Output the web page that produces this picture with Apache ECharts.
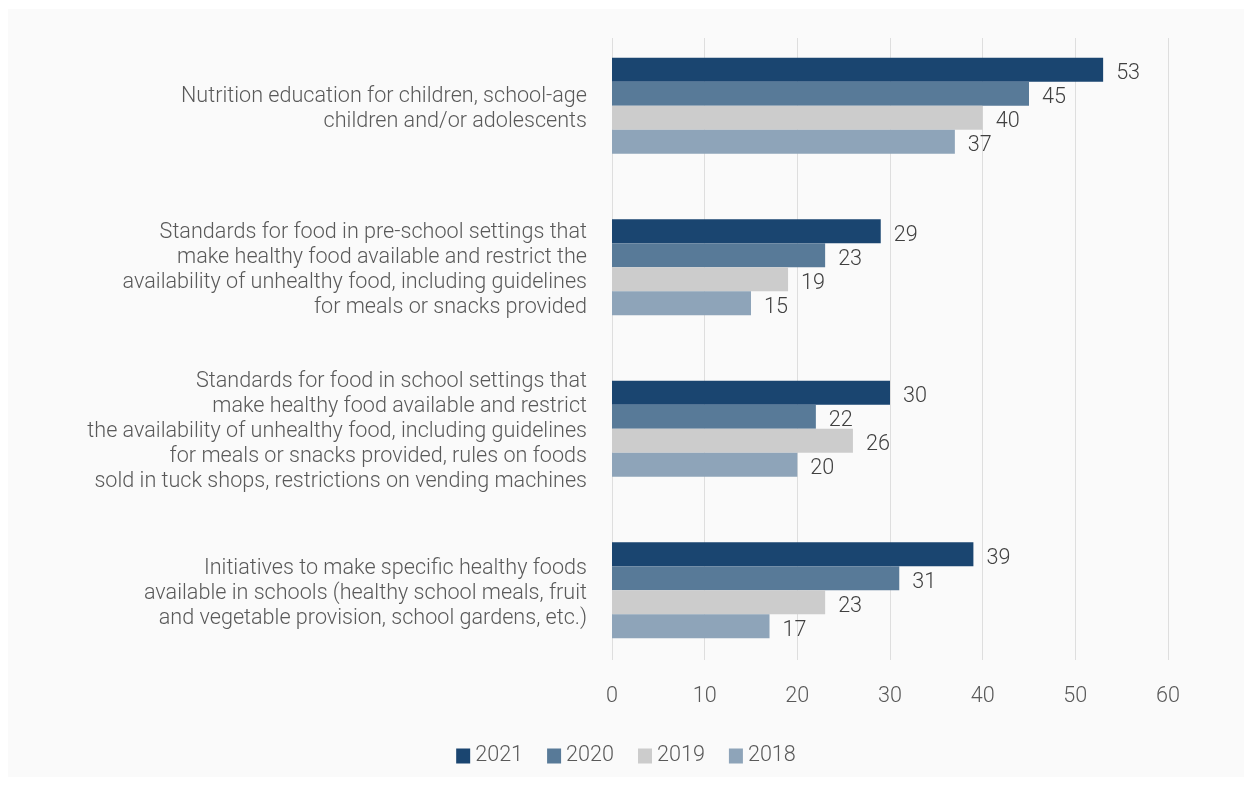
<!DOCTYPE html>
<html>
<head>
<meta charset="utf-8">
<script src="https://cdn.jsdelivr.net/npm/echarts@6/dist/echarts.min.js"></script>
<style>html,body{margin:0;padding:0;background:#fff}#c{width:1252px;height:785px}</style>
</head>
<body>
<div id="c"></div>
<script>
var categories = [
  'Nutrition education for children, school-age\nchildren and/or adolescents',
  'Standards for food in pre-school settings that\nmake healthy food available and restrict the\navailability of unhealthy food, including guidelines\nfor meals or snacks provided',
  'Standards for food in school settings that\nmake healthy food available and restrict\nthe availability of unhealthy food, including guidelines\nfor meals or snacks provided, rules on foods\nsold in tuck shops, restrictions on vending machines',
  'Initiatives to make specific healthy foods\navailable in schools (healthy school meals, fruit\nand vegetable provision, school gardens, etc.)'
];
var seriesNames = ['2021', '2020', '2019', '2018'];
var values2021 = [53, 29, 30, 39];
var values2020 = [45, 23, 22, 31];
var values2019 = [40, 19, 26, 23];
var values2018 = [37, 15, 20, 17];
var xTicks = [0, 10, 20, 30, 40, 50, 60];

var colors = ['#1a4570', '#587a98', '#cccccc', '#8ea4b9'];
var allValues = [values2021, values2020, values2019, values2018];
var FONT = 'Roboto';
var FW = 300;
var FS = 21.6;

var chart = echarts.init(document.getElementById('c'), null, {renderer: 'canvas'});
var series = seriesNames.map(function (n, i) {
  return {
    name: n, type: 'bar', xAxisIndex: 1, yAxisIndex: 1,
    data: allValues[i], barWidth: 24, barGap: '0%',
    itemStyle: {color: colors[i]},
    label: {show: true, position: 'right', distance: 13, offset: [0, 4], color: '#404040',
            fontSize: FS, fontWeight: FW, fontFamily: FONT},
    emphasis: {disabled: true}
  };
});
chart.setOption({
  animation: false,
  backgroundColor: '#ffffff',
  textStyle: {fontFamily: FONT},
  graphic: [{type: 'rect', z: -10, shape: {x: 8, y: 9, width: 1236, height: 768}, style: {fill: '#fafafa'}}],
  legend: {
    data: seriesNames, left: 'center', top: 740, icon: 'rect', itemWidth: 14, itemHeight: 15, itemGap: 24,
    textStyle: {color: '#595959', fontSize: FS, fontWeight: FW, fontFamily: FONT}
  },
  grid: [
    {left: 612, right: 84, top: 38, bottom: 125},
    {left: 612, right: 84, top: 25, bottom: 114},
    {left: 612, right: 84, top: 28, bottom: 111}
  ],
  xAxis: [
    {type: 'value', gridIndex: 0, min: xTicks[0], max: xTicks[xTicks.length - 1], interval: 10,
     axisLine: {show: false}, axisTick: {show: false},
     splitLine: {show: true, lineStyle: {color: '#dedede', width: 1}},
     axisLabel: {color: '#595959', fontSize: FS, fontWeight: FW, margin: 26, fontFamily: FONT}},
    {type: 'value', gridIndex: 1, min: xTicks[0], max: xTicks[xTicks.length - 1], show: false},
    {type: 'value', gridIndex: 2, min: xTicks[0], max: xTicks[xTicks.length - 1], show: false}
  ],
  yAxis: [
    {type: 'category', gridIndex: 0, data: categories, show: false},
    {type: 'category', gridIndex: 1, data: categories, inverse: true, show: false},
    {type: 'category', gridIndex: 2, data: categories, inverse: true,
     axisLine: {show: false}, axisTick: {show: false}, splitLine: {show: false},
     axisLabel: {color: '#595959', fontSize: FS, fontWeight: FW, margin: 25, lineHeight: 25,
                 align: 'right', fontFamily: FONT}}
  ],
  series: series
});
</script>
</body>
</html>
